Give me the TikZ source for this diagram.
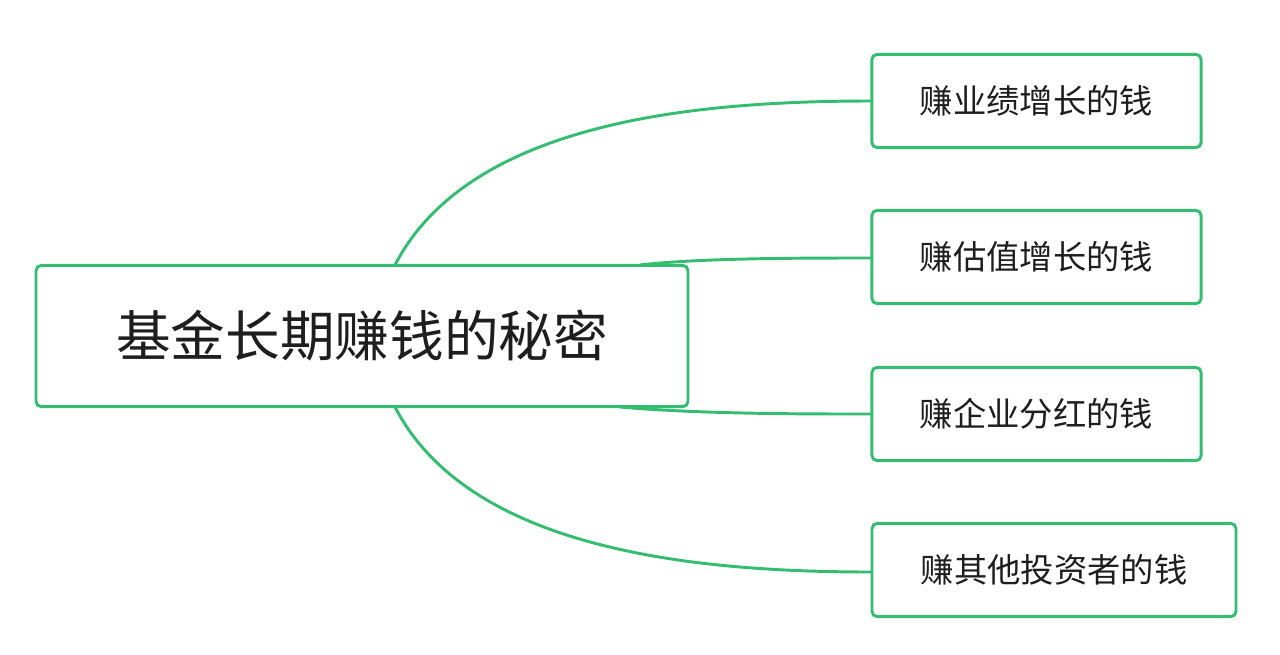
\documentclass[tikz,border=0pt]{standalone}
\usepackage{fontspec}
\newfontfamily\cjk{Noto Sans CJK SC}
\definecolor{gr}{RGB}{52,188,112}
\definecolor{tx}{RGB}{30,30,30}
\begin{document}
\begin{tikzpicture}[x=0.75pt,y=-0.75pt,
 box/.style={draw=gr,line width=2.2pt,rounded corners=4pt,fill=white,text=tx,font=\cjk},
 link/.style={draw=gr,line width=2.2pt}]
\useasboundingbox (0,0) rectangle (1280,654);
\draw[link] (395,265) .. controls (470,120) and (700,101) .. (872,101);
\draw[link] (640,265) .. controls (700,258) and (800,258) .. (872,258);
\draw[link] (620,407) .. controls (700,414) and (800,414) .. (872,414);
\draw[link] (395,407) .. controls (470,552) and (700,572) .. (872,572);
\node[box,minimum width=489pt,minimum height=106pt,font=\cjk\fontsize{41}{48}\selectfont] (m) at (362,336) {\raisebox{-3pt}{基金长期赚钱的秘密}};
\node[box,minimum width=247pt,minimum height=70pt,font=\cjk\fontsize{25}{30}\selectfont] (a) at (1036.5,101) {赚业绩增长的钱};
\node[box,minimum width=247pt,minimum height=70pt,font=\cjk\fontsize{25}{30}\selectfont] (b) at (1036.5,257) {赚估值增长的钱};
\node[box,minimum width=247pt,minimum height=70pt,font=\cjk\fontsize{25}{30}\selectfont] (c) at (1036.5,414) {赚企业分红的钱};
\node[box,minimum width=273pt,minimum height=70pt,font=\cjk\fontsize{25}{30}\selectfont] (d) at (1054,570) {赚其他投资者的钱};
\end{tikzpicture}
\end{document}
